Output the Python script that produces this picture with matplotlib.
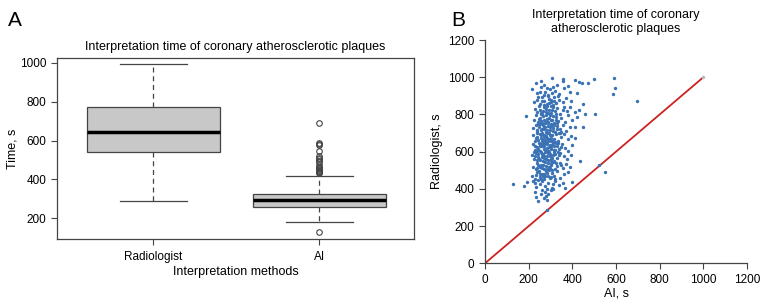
import numpy as np
import matplotlib.pyplot as plt

plt.rcParams['font.family'] = ['Liberation Sans', 'DejaVu Sans']

# box plot summary
methods = ['Radiologist', 'AI']
whisker_low = [287, 183]
q1 = [542, 260]
median = [645, 292]
q3 = [774, 323]
whisker_high = [993, 419]
ai_outliers = [128, 431, 436, 440, 445, 450, 453, 458, 465, 475, 488, 495,
               503, 510, 520, 548, 575, 580, 586, 688]

# scatter: AI time vs radiologist time
pts = [
    (244, 333), (285, 339), (279, 363), (275, 381), (233, 356), (262, 395), (300, 392),
    (230, 383), (290, 372), (310, 398), (367, 405), (255, 372), (270, 350), (284, 287),
    (127, 426), (180, 415), (194, 439), (400, 435), (220, 440), (235, 410), (250, 425),
    (262, 445), (275, 415), (290, 430), (305, 405), (320, 440), (340, 420), (358, 432),
    (245, 448), (282, 402), (312, 425), (230, 430),
    (215, 470), (228, 455), (240, 490), (252, 462), (260, 480), (268, 455), (278, 495),
    (288, 470), (296, 458), (305, 485), (318, 470), (330, 495), (345, 460), (362, 478),
    (380, 490), (235, 475), (248, 498), (265, 470), (285, 488), (300, 466), (322, 452),
    (550, 492), (272, 482), (258, 452),
    (220, 520), (232, 505), (240, 540), (250, 515), (258, 530), (265, 548), (272, 508),
    (280, 525), (288, 540), (296, 512), (304, 530), (312, 545), (320, 505), (330, 525),
    (342, 540), (355, 510), (372, 532), (390, 520), (435, 548), (520, 528), (245, 528),
    (262, 510), (276, 545), (292, 520), (308, 502), (325, 538), (238, 512), (284, 505),
    (300, 548), (350, 530),
    (215, 580), (225, 560), (235, 592), (244, 570), (252, 555), (260, 585), (268, 565),
    (276, 598), (283, 575), (290, 555), (298, 590), (306, 568), (314, 552), (322, 585),
    (332, 565), (345, 595), (360, 575), (375, 560), (392, 580), (240, 555), (256, 598),
    (272, 578), (287, 592), (302, 560), (318, 596), (338, 580), (262, 570), (280, 558),
    (296, 575), (230, 575),
    (220, 640), (230, 610), (238, 625), (246, 645), (254, 605), (261, 632), (268, 615),
    (275, 648), (282, 620), (289, 605), (296, 638), (304, 618), (312, 645), (320, 608),
    (330, 630), (340, 612), (352, 642), (365, 622), (380, 605), (398, 635), (236, 602),
    (250, 628), (264, 648), (278, 602), (292, 625), (308, 635), (326, 648), (244, 612),
    (258, 640), (272, 628), (286, 640), (300, 612), (316, 628), (334, 645), (228, 632),
    (346, 625),
    (218, 690), (228, 660), (236, 680), (245, 665), (252, 695), (260, 655), (268, 678),
    (276, 662), (284, 698), (292, 670), (300, 655), (308, 688), (316, 668), (326, 695),
    (336, 660), (348, 680), (362, 695), (378, 668), (395, 685), (410, 672), (240, 698),
    (256, 672), (272, 690), (288, 658), (304, 675), (320, 652), (342, 698), (264, 665),
    (280, 682), (296, 692), (232, 672),
    (222, 725), (232, 742), (240, 708), (248, 730), (256, 715), (264, 745), (272, 722),
    (280, 705), (288, 738), (296, 718), (304, 748), (312, 728), (322, 705), (332, 740),
    (345, 720), (358, 745), (372, 712), (388, 735), (410, 730), (451, 733), (244, 748),
    (260, 702), (276, 735), (292, 702), (310, 712), (328, 722), (350, 705), (236, 718),
    (268, 732), (300, 740), (318, 745),
    (190, 790), (225, 770), (234, 795), (242, 758), (250, 782), (258, 765), (266, 792),
    (274, 752), (282, 778), (290, 762), (298, 795), (306, 772), (314, 755), (324, 788),
    (336, 765), (350, 780), (365, 760), (380, 795), (400, 770), (420, 785), (246, 775),
    (262, 755), (278, 798), (294, 780), (310, 790), (330, 752), (460, 802), (506, 800),
    (270, 768), (288, 752),
    (228, 830), (238, 812), (246, 845), (254, 822), (262, 805), (270, 838), (278, 815),
    (286, 848), (294, 825), (302, 808), (310, 840), (320, 818), (332, 835), (345, 805),
    (360, 842), (375, 820), (390, 838), (410, 812), (430, 825), (255, 802), (280, 832),
    (300, 845), (325, 802), (355, 825), (265, 820),
    (225, 865), (240, 880), (252, 858), (262, 892), (272, 870), (282, 855), (292, 885),
    (302, 868), (314, 895), (326, 860), (340, 880), (356, 865), (372, 890), (395, 872),
    (450, 858), (268, 852), (288, 898), (310, 852), (335, 898), (695, 874), (245, 895),
    (300, 880),
    (217, 935), (238, 915), (258, 945), (275, 922), (288, 905), (296, 935), (305, 918),
    (320, 928), (340, 910), (360, 940), (388, 920), (420, 915), (585, 910), (594, 942),
    (268, 905), (312, 945),
    (255, 980), (305, 996), (358, 992), (355, 981), (412, 983), (432, 972), (444, 967),
    (470, 969), (497, 990), (590, 996), (270, 960), (330, 958), (380, 955), (232, 970),
    # extra points filling the dense core
    (248, 560), (266, 590), (294, 600), (310, 580), (254, 640), (282, 650), (298, 625),
    (314, 610), (258, 690), (286, 672), (306, 660), (262, 720), (284, 715), (298, 730),
    (252, 750), (280, 760), (300, 770), (256, 810), (288, 810), (308, 825), (260, 870),
    (294, 860), (250, 480), (276, 470), (294, 500), (266, 530), (300, 535), (244, 590),
    (226, 600), (334, 600), (340, 700), (324, 770), (318, 870), (250, 920), (282, 940),
]
ai_time = [p[0] for p in pts]
rad_time = [p[1] for p in pts]

fig = plt.figure(figsize=(7.62, 3.05), dpi=100)

# ---- panel A: box plot
axA = fig.add_axes([0.0748, 0.2164, 0.4685, 0.5934])
stats = []
for i, m in enumerate(methods):
    stats.append(dict(label=m, whislo=whisker_low[i], q1=q1[i], med=median[i],
                      q3=q3[i], whishi=whisker_high[i],
                      fliers=ai_outliers if m == 'AI' else []))
edge = '#444444'
axA.bxp(stats, positions=[1, 2], widths=0.8, patch_artist=True,
        boxprops=dict(facecolor='#c8c8c8', edgecolor=edge, linewidth=0.9),
        medianprops=dict(color='black', linewidth=2.5),
        whiskerprops=dict(color=edge, linewidth=0.9, linestyle=(0, (4, 3))),
        capprops=dict(color=edge, linewidth=0.9),
        capwidths=0.4,
        flierprops=dict(marker='o', markersize=4, markerfacecolor='none',
                        markeredgecolor=edge, markeredgewidth=0.8))
axA.set_xlim(0.42, 2.57)
axA.set_ylim(94, 1024)
axA.set_yticks([200, 400, 600, 800, 1000])
axA.tick_params(labelsize=8.5, length=4, width=0.8, color=edge)
axA.tick_params(axis='x', pad=5)
for s in axA.spines.values():
    s.set_color(edge)
    s.set_linewidth(0.9)
axA.set_title('Interpretation time of coronary atherosclerotic plaques', fontsize=9, pad=6)
axA.set_xlabel('Interpretation methods', fontsize=9, labelpad=2)
axA.set_ylabel('Time, s', fontsize=9, labelpad=1)

# ---- panel B: scatter
axB = fig.add_axes([0.6365, 0.1367, 0.3438, 0.732])
axB.plot([0, 1000], [0, 1000], color='#cc2222', linewidth=1.3, zorder=1)
axB.scatter(ai_time, rad_time, s=6, color='#3a72b5', linewidths=0, zorder=2)
axB.scatter([1000], [1000], s=6, color='#bbbbbb', linewidths=0, zorder=3)
axB.set_xlim(0, 1200)
axB.set_ylim(0, 1200)
axB.set_xticks(range(0, 1201, 200))
axB.set_yticks(range(0, 1201, 200))
axB.spines['top'].set_visible(False)
axB.spines['right'].set_visible(False)
for s in ('left', 'bottom'):
    axB.spines[s].set_color(edge)
    axB.spines[s].set_linewidth(0.9)
axB.tick_params(labelsize=8.5, length=4, width=0.8, color=edge)
axB.set_title('Interpretation time of coronary\natherosclerotic plaques', fontsize=9, pad=6)
axB.set_xlabel('AI, s', fontsize=9, labelpad=1)
axB.set_ylabel('Radiologist, s', fontsize=9, labelpad=4)

fig.text(0.010, 0.915, 'A', fontsize=15)
fig.text(0.592, 0.915, 'B', fontsize=15)

fig.savefig('out.png', dpi=100)
